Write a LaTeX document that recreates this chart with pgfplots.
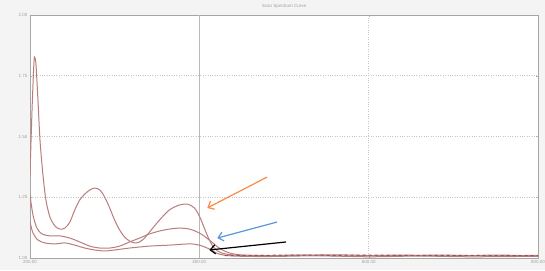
\documentclass[border=0pt]{standalone}
\usepackage{pgfplots}
\pgfplotsset{compat=1.18}
\usepackage{fontspec}
\setmainfont{Liberation Sans}
\usetikzlibrary{arrows.meta}
\definecolor{curve}{RGB}{185,125,125}
\definecolor{arrorange}{RGB}{245,140,70}
\definecolor{arrblue}{RGB}{90,150,220}
\definecolor{bgc}{RGB}{244,244,244}
\begin{document}
\begin{tikzpicture}
\useasboundingbox (-30pt,-12pt) rectangle (515pt,258pt);
\fill[bgc] (-30pt,-12pt) rectangle (515pt,258pt);
\begin{axis}[
  at={(0,0)}, anchor=south west,
  scale only axis, width=508pt, height=243pt,
  xmin=200, xmax=800, ymin=1, ymax=2,
  axis background/.style={fill=white},
  axis line style={gray!70, line width=0.8pt},
  xtick={200,400,600,800},
  ytick={1,1.25,1.5,1.75,2},
  tick style={gray!60},
  major tick length=2pt,
  tick label style={font=\fontsize{4.5}{5.5}\selectfont, text=gray!75},
  /pgf/number format/assume math mode=true,
  /pgf/number format/.cd, fixed, fixed zerofill, precision=2, /pgfplots/.cd,
  xticklabel style={yshift=1pt},
  yticklabel style={xshift=1pt},
  grid=major,
  major grid style={gray!45, dotted, line width=0.6pt},
  title={Scan Spectrum Curve},
  title style={font=\fontsize{4.5}{5.5}\selectfont, text=gray!75, yshift=-3pt},
  clip=true,
]
\draw[gray!55, line width=0.6pt] (axis cs:400,1) -- (axis cs:400,2);
\addplot[curve, line width=1pt, smooth] coordinates {
(200,1.342) (202.4,1.609) (204.7,1.807) (205.9,1.823) (207.1,1.794) (209.4,1.650)
(211.8,1.486) (215.3,1.342) (218.8,1.239) (223.5,1.169) (229.4,1.132) (235.3,1.119)
(241.2,1.123) (247.1,1.148) (252.9,1.198) (258.8,1.239) (264.7,1.263) (270.6,1.280)
(276.5,1.288) (282.4,1.280) (288.2,1.251) (294.1,1.206) (300,1.156) (305.9,1.115)
(311.8,1.086) (317.6,1.070) (323.5,1.062) (329.4,1.066) (335.3,1.082) (341.2,1.107)
(352.9,1.156) (364.7,1.198) (376.5,1.218) (385.9,1.222) (394.1,1.206) (400,1.173)
(405.9,1.123) (411.8,1.074) (417.6,1.041) (425.9,1.021) (441.2,1.012) (470.6,1.008)
(517.6,1.012) (576.5,1.008) (635.3,1.012) (694.1,1.008) (752.9,1.012) (797.6,1.008)
};
\addplot[curve, line width=1pt, smooth] coordinates {
(200,1.259) (203.5,1.177) (208.2,1.123) (214.1,1.099) (223.5,1.091) (235.3,1.091)
(247.1,1.082) (258.8,1.066) (270.6,1.049) (282.4,1.041) (294.1,1.041) (305.9,1.049)
(317.6,1.066) (329.4,1.082) (341.2,1.099) (352.9,1.111) (364.7,1.119) (376.5,1.123)
(388.2,1.119) (400,1.103) (411.8,1.074) (423.5,1.041) (435.3,1.021) (452.9,1.012)
(500,1.010) (560,1.013) (620,1.009) (680,1.012) (740,1.009) (800,1.011)
};
\addplot[curve, line width=1pt, smooth] coordinates {
(200,1.148) (203.5,1.103) (209.4,1.074) (217.6,1.062) (229.4,1.058) (241.2,1.062)
(252.9,1.053) (264.7,1.041) (276.5,1.033) (288.2,1.029) (300,1.033) (317.6,1.041)
(341.2,1.049) (364.7,1.053) (388.2,1.058) (400,1.053) (411.8,1.037) (423.5,1.016)
(441.2,1.008) (480,1.006) (540,1.009) (600,1.005) (660,1.008) (720,1.005) (800,1.007)
};
\addplot[color={rgb,255:red,150;green,80;blue,80}, line width=1pt, dashed] coordinates {
(430,1.010) (470,1.011) (520,1.012) (560,1.011) (600,1.012) (660,1.010) (700,1.011) (760,1.010) (800,1.010)
};
\draw[arrorange, line width=1.2pt, -{Straight Barb[length=5pt,width=9pt]}] (axis cs:480,1.333) -- (axis cs:409.4,1.206);
\draw[arrblue, line width=1.2pt, -{Straight Barb[length=5pt,width=9pt]}] (axis cs:491.8,1.148) -- (axis cs:421.2,1.082);
\draw[black, line width=1.2pt, -{Straight Barb[length=5pt,width=9pt]}] (axis cs:502.4,1.066) -- (axis cs:411.8,1.033);
\end{axis}
\end{tikzpicture}
\end{document}
